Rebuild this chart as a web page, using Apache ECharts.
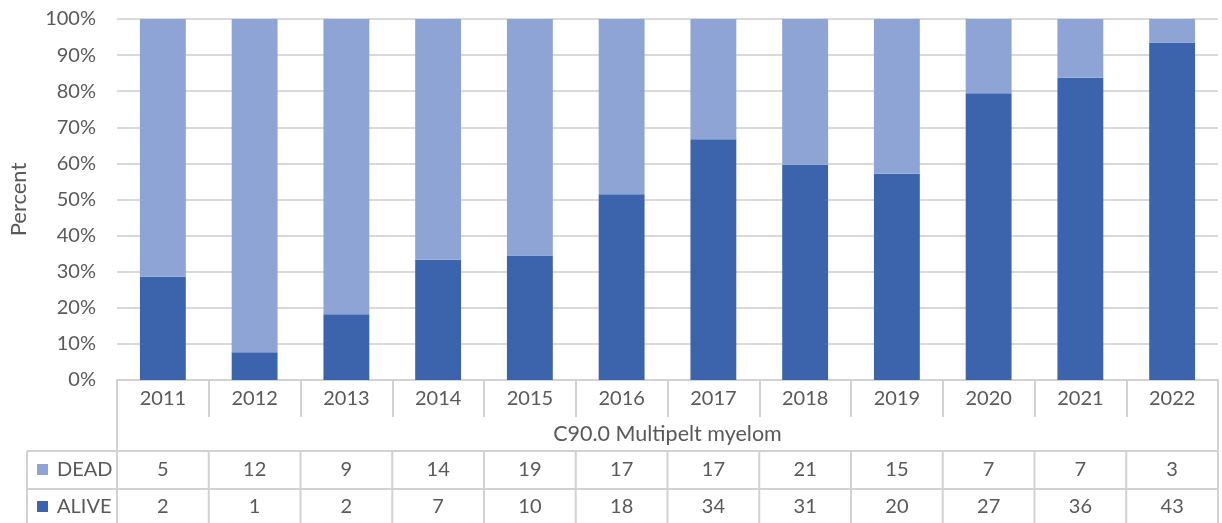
<!DOCTYPE html>
<html>
<head>
<meta charset="utf-8">
<script src="https://cdn.jsdelivr.net/npm/echarts@6/dist/echarts.min.js"></script>
<style>
html,body{margin:0;padding:0;background:#fff;}
#c{width:1222px;height:523px;}
</style>
</head>
<body>
<div id="c"></div>
<script>
const years = ['2011','2012','2013','2014','2015','2016','2017','2018','2019','2020','2021','2022'];
const deadCounts  = [5, 12, 9, 14, 19, 17, 17, 21, 15, 7, 7, 3];
const aliveCounts = [2, 1, 2, 7, 10, 18, 34, 31, 20, 27, 36, 43];
const groupLabel = 'C90.0 Multipelt myelom';
const yAxisTitle = 'Percent';
const seriesNames = ['DEAD', 'ALIVE'];

const alivePct = aliveCounts.map((a, i) => a / (a + deadCounts[i]) * 100);
const deadPct = deadCounts.map((d, i) => d / (aliveCounts[i] + deadCounts[i]) * 100);

const DARK = '#3B64AD', LIGHT = '#8EA4D5', TXT = '#595959', GRIDC = '#D9D9D9', TBL = '#D2D2D2';
const FONT = 'Lato';

const chart = echarts.init(document.getElementById('c'), null, {renderer: 'canvas'});
chart.setOption({
  animation: false,
  textStyle: {fontFamily: FONT},
  grid: {left: 116, right: 4, top: 19, bottom: 143, containLabel: false},
  xAxis: {
    type: 'category',
    data: years,
    axisLine: {show: true, lineStyle: {color: TBL, width: 2}},
    axisTick: {show: true, length: 37, interval: 0, lineStyle: {color: TBL, width: 2}},
    axisLabel: {color: TXT, fontSize: 20, fontFamily: FONT, margin: 9, interval: 0}
  },
  yAxis: {
    type: 'value',
    min: 0, max: 100, interval: 10,
    name: yAxisTitle,
    nameLocation: 'middle',
    nameGap: 87,
    nameTextStyle: {color: TXT, fontSize: 22, fontFamily: FONT},
    axisLine: {show: false},
    axisTick: {show: false},
    axisLabel: {color: TXT, fontSize: 20, fontFamily: FONT, margin: 21, formatter: v => v + '%'},
    splitLine: {lineStyle: {color: GRIDC, width: 2}}
  },
  series: [
    {name: seriesNames[1], type: 'bar', stack: 's', data: alivePct, barWidth: '50%', itemStyle: {color: DARK}},
    {name: seriesNames[0], type: 'bar', stack: 's', data: deadPct, barWidth: '50%', itemStyle: {color: LIGHT}}
  ]
});

// Data table under the chart, positioned from the axes
const centers = years.map((y, i) => chart.convertToPixel({xAxisIndex: 0}, i));
const bw = centers.length > 1 ? centers[1] - centers[0] : 90;
const L = centers[0] - bw / 2, R = centers[centers.length - 1] + bw / 2;
const y0 = chart.convertToPixel({yAxisIndex: 0}, 0);
const rowYear = 37, rowGroup = 34, rowData = 38;
const yGroupTop = y0 + rowYear;
const yDead = yGroupTop + rowGroup;
const yAlive = yDead + rowData;
const yEnd = 523;
const leftCol = 27;

const g = [];
const line = (x1, y1, x2, y2) => g.push({type: 'line', shape: {x1, y1, x2, y2}, style: {stroke: TBL, lineWidth: 2}, silent: true});
line(leftCol, yDead, R, yDead);
line(leftCol, yAlive, R, yAlive);
line(leftCol, yDead, leftCol, yEnd);
line(L, y0, L, yEnd);
line(R, y0, R, yEnd);
for (let i = 1; i < years.length; i++) {
  const x = centers[i] - bw / 2;
  line(x, yDead, x, yEnd);
}
const txt = (text, x, y, align, size) => g.push({type: 'text', x, y, style: {text, fill: TXT, font: (size || 20) + 'px ' + FONT, textAlign: align || 'center', textVerticalAlign: 'middle'}, silent: true});
txt(groupLabel, (L + R) / 2, yGroupTop + rowGroup / 2, 'center', 21.5);
centers.forEach((c, i) => {
  txt(String(deadCounts[i]), c, yDead + rowData / 2);
  txt(String(aliveCounts[i]), c, yAlive + rowData / 2 - 1);
});
g.push({type: 'rect', shape: {x: 37, y: yDead + rowData / 2 - 6, width: 11, height: 11}, style: {fill: LIGHT}, silent: true});
g.push({type: 'rect', shape: {x: 37, y: yAlive + rowData / 2 - 7, width: 11, height: 11}, style: {fill: DARK}, silent: true});
txt(seriesNames[0], 57, yDead + rowData / 2, 'left');
txt(seriesNames[1], 57, yAlive + rowData / 2 - 1, 'left');
chart.setOption({graphic: g});
</script>
</body>
</html>
